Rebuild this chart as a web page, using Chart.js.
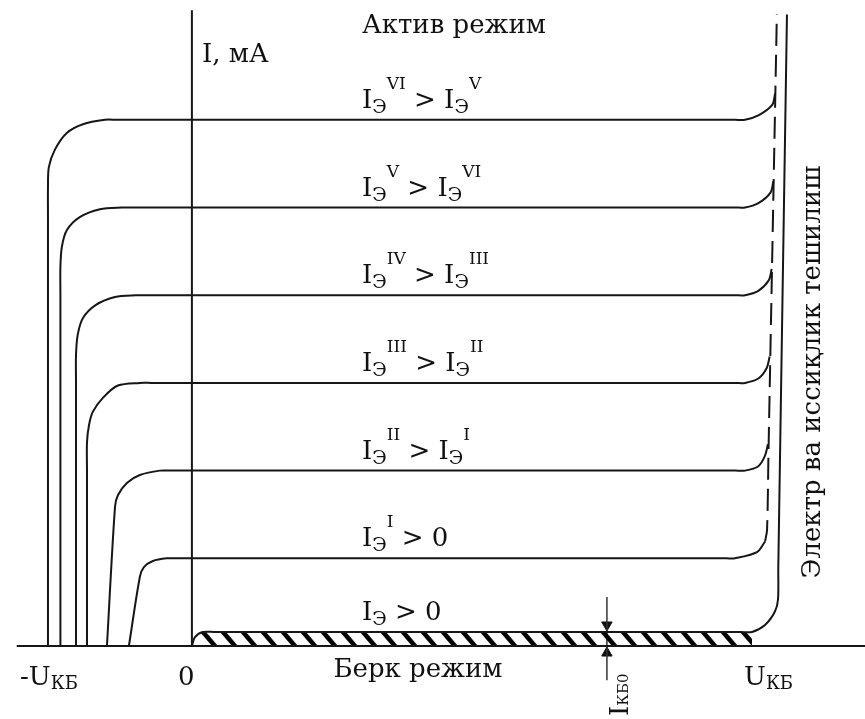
<!DOCTYPE html>
<html>
<head>
<meta charset="utf-8">
<script src="https://cdn.jsdelivr.net/npm/chart.js@4/dist/chart.umd.min.js"></script>
<style>
  html,body{margin:0;padding:0;background:#fff;}
  #wrap{position:relative;width:865px;height:719px;}
</style>
</head>
<body>
<div id="wrap"><canvas id="c"></canvas></div>
<script>
// ---------- data (x: U_КБ arbitrary units, y: I in mA) ----------
const levels = [0.16, 1, 2, 3, 4, 5, 6];           // emitter-current curve levels
const curveLabels = [
  [['I','m'],['Э','b'],[' > 0','m']],
  [['I','m'],['Э','b'],['I','p'],[' > 0','m']],
  [['I','m'],['Э','b'],['II','p'],[' > ','m'],['I','m'],['Э','b'],['I','p']],
  [['I','m'],['Э','b'],['III','p'],[' > ','m'],['I','m'],['Э','b'],['II','p']],
  [['I','m'],['Э','b'],['IV','p'],[' > ','m'],['I','m'],['Э','b'],['III','p']],
  [['I','m'],['Э','b'],['V','p'],[' > ','m'],['I','m'],['Э','b'],['VI','p']],
  [['I','m'],['Э','b'],['VI','p'],[' > ','m'],['I','m'],['Э','b'],['V','p']]
];
const curve0 = [[0,0],[0.10,0.10],[0.38,0.16],[0.8,0.16],[19.0,0.16],[19.38,0.16],[19.83,0.24],[20.17,0.39],[20.28,0.53],[20.29,0.9],[20.59,7.20]];
const curveI = [[-2.18,0],[-1.80,0.79],[-1.66,0.90],[-1.35,0.97],[-0.87,1],[-0.5,1],[18.5,1],[18.79,1],[19.55,1.07],[19.83,1.19]];
const curveII = [[-2.94,0],[-2.66,1.59],[-2.56,1.72],[-2.25,1.86],[-1.80,1.95],[-1.11,2],[-0.7,2],[18.8,2],[19.14,2],[19.60,2.05],[19.83,2.17],[19.93,2.30]];
const curveIII = [[-3.63,0],[-3.63,2.0],[-3.63,2.32],[-3.56,2.52],[-3.43,2.67],[-3.08,2.83],[-2.56,2.97],[-1.80,3],[-1.4,3],[18.8,3],[19.14,3],[19.60,3.05],[19.89,3.17],[19.99,3.30]];
const curveIV = [[-4.01,0],[-4.01,3.0],[-4.01,3.32],[-3.95,3.55],[-3.77,3.74],[-3.32,3.89],[-2.66,3.98],[-1.94,4],[-1.5,4],[18.8,4],[19.14,4],[19.60,4.05],[19.96,4.17],[20.06,4.30]];
const curveV = [[-4.55,0],[-4.55,4.0],[-4.55,4.32],[-4.50,4.55],[-4.33,4.74],[-3.88,4.89],[-3.18,4.98],[-2.42,5],[-2.0,5],[18.8,5],[19.14,5],[19.60,5.05],[20.02,5.17],[20.12,5.30]];
const curveVI = [[-4.98,0],[-4.98,4.9],[-4.98,5.23],[-4.95,5.46],[-4.74,5.66],[-4.33,5.85],[-3.77,5.95],[-3.01,6],[-2.6,6],[18.8,6],[19.14,6],[19.60,6.05],[20.08,6.17],[20.18,6.30]];
const breakdownDashed = [[19.83,1.19],[19.90,1.32],[19.95,2.2],[20.24,7.20]];
const cutoffRegion = [[0.22,0.16],[19.38,0.16]];
const xAxisLine = [[-6.06,0],[23.29,0]];
const yAxisLine = [[0,0],[0,7.25]];
const iKB0Line = [[14.36,0.56],[14.36,-0.39]];
const iKB0Arrows = [[14.36,0.24],[14.36,-0.08]];
const xTickLabels = [['-U','КБ'],['0',''],['U','КБ']];

// ---------- helpers ----------
const pts = a => a.map(([x,y]) => ({x, y}));
const INK = '#161616';
const FONT = '"DejaVu Serif", "Liberation Serif", serif';

// hatch pattern for cutoff region
const tile = document.createElement('canvas');
tile.width = 20; tile.height = 14;
const tctx = tile.getContext('2d');
tctx.fillStyle = '#000';
tctx.beginPath();
tctx.moveTo(0,0); tctx.lineTo(6,0); tctx.lineTo(18,14); tctx.lineTo(12,14); tctx.closePath();
tctx.fill();
const hatch = tctx.createPattern(tile, 'repeat');

function line(data, extra) {
  return Object.assign({
    data: pts(data), showLine: true, borderColor: INK, borderWidth: 2,
    pointRadius: 0, pointHoverRadius: 0, tension: 0.3, fill: false
  }, extra || {});
}

const datasets = [
  line(xAxisLine, {tension: 0}),
  line(yAxisLine, {tension: 0}),
  line(curve0),
  line(curveI),
  line(curveII),
  line(curveIII),
  line(curveIV),
  line(curveV),
  line(curveVI),
  line(breakdownDashed, {borderDash: [22, 9], borderWidth: 2}),
  line(cutoffRegion, {tension: 0, borderWidth: 0, fill: 'origin', backgroundColor: hatch}),
  line(iKB0Line, {tension: 0, borderWidth: 1.5, borderColor: '#333'}),
  {
    data: pts(iKB0Arrows), showLine: false, pointStyle: 'triangle',
    pointRadius: 6, pointHoverRadius: 6, pointRotation: [180, 0],
    backgroundColor: '#111', borderColor: '#111', borderWidth: 1
  }
];

function seq(ctx, x, base, parts, sizes) {
  for (const [t, k] of parts) {
    const s = sizes[k];
    ctx.font = s.size + 'px ' + FONT;
    ctx.fillText(t, x, base + s.dy);
    x += ctx.measureText(t).width;
  }
  return x;
}

const textPlugin = {
  id: 'texts',
  beforeDraw(chart) {
    const y0 = chart.scales.y.getPixelForValue(0);
    hatch.setTransform(new DOMMatrix().translate(0, y0 - 14));
  },
  afterDraw(chart) {
    const ctx = chart.ctx;
    const ys = chart.scales.y;
    ctx.save();
    ctx.fillStyle = '#111';
    ctx.textBaseline = 'alphabetic';
    ctx.textAlign = 'left';
    const labSizes = {m: {size: 26, dy: 0}, b: {size: 19, dy: 5}, p: {size: 17, dy: -19}};
    curveLabels.forEach((parts, i) => {
      const base = ys.getPixelForValue(levels[i]) - 12;
      seq(ctx, 362, base, parts, labSizes);
    });
    ctx.font = '26px ' + FONT;
    ctx.fillText('Актив режим', 362, 33);
    ctx.fillText('I, мА', 202, 62);
    ctx.textAlign = 'center';
    ctx.fillText('Берк режим', 418, 677);
    ctx.textAlign = 'left';
    const tickSizes = {m: {size: 26, dy: 0}, b: {size: 18, dy: 4}};
    seq(ctx, 20, 685, [[xTickLabels[0][0],'m'],[xTickLabels[0][1],'b']], tickSizes);
    seq(ctx, 178, 685, [[xTickLabels[1][0],'m']], tickSizes);
    seq(ctx, 744, 685, [[xTickLabels[2][0],'m'],[xTickLabels[2][1],'b']], tickSizes);
    // vertical breakdown label
    ctx.save();
    ctx.translate(813, 372);
    ctx.rotate(-Math.PI / 2);
    ctx.textAlign = 'center';
    ctx.textBaseline = 'middle';
    ctx.font = '26px ' + FONT;
    ctx.fillText('Электр ва иссиқлик тешилиш', 0, 0);
    ctx.restore();
    // I_КБ0 label
    ctx.save();
    ctx.translate(628, 716);
    ctx.rotate(-Math.PI / 2);
    seq(ctx, 0, 0, [['I','m'],['КБ0','b']], {m: {size: 26, dy: 0}, b: {size: 15, dy: 0}});
    ctx.restore();
    ctx.restore();
  }
};

new Chart(document.getElementById('c'), {
  type: 'scatter',
  data: {datasets},
  options: {
    responsive: true,
    maintainAspectRatio: false,
    animation: false,
    layout: {padding: 0, autoPadding: false},
    plugins: {legend: {display: false}, tooltip: {enabled: false}},
    scales: {
      x: {type: 'linear', min: -6.64, max: 23.29, display: false},
      y: {type: 'linear', min: -0.832, max: 7.366, display: false}
    }
  },
  plugins: [textPlugin]
});
</script>
</body>
</html>
